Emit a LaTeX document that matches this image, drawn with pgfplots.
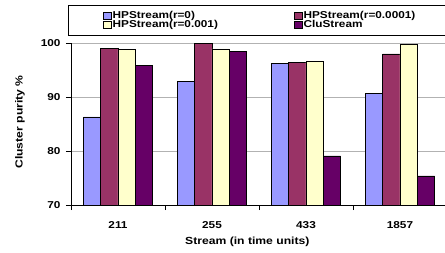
\documentclass[border=0pt]{standalone}
\usepackage{pgfplots}
\pgfplotsset{compat=1.18}
\usepackage{fontspec}
\setmainfont{Liberation Sans}[FakeStretch=1.18, BoldFeatures={FakeStretch=1.18}]
\definecolor{cA}{HTML}{9999FF}
\definecolor{cB}{HTML}{993366}
\definecolor{cC}{HTML}{FFFFCC}
\definecolor{cD}{HTML}{660066}
\pgfplotsset{sq/.style={draw=black, line width=0.5pt,
  legend image code/.code={\draw[##1,draw=black,line width=0.5pt] (0pt,-3.7pt) rectangle (7.4pt,3.7pt);}}}
\begin{document}
\begin{tikzpicture}
\path[use as bounding box] (0,0) rectangle (445pt,252pt);
\begin{axis}[
 at={(71pt,47pt)}, anchor=south west,
 scale only axis, width=376pt, height=162pt,
 ybar=0pt, bar width=17.3pt,
 xmin=-0.5, xmax=3.5, ymin=70, ymax=100,
 axis x line*=bottom, axis y line*=left,
 xtick={0,1,2,3}, xticklabels={211,255,433,1857},
 major x tick style={draw=none},
 minor xtick={-0.5,0.5,1.5,2.5,3.5},
 minor tick length=5pt, major tick length=5pt,
 tick align=outside,
 ytick={70,80,90,100},
 ymajorgrids, grid style={gray!60, line width=0.6pt},
 tick style={black, line width=0.6pt},
 axis line style={black, line width=0.6pt},
 /pgf/number format/assume math mode=true,
 ticklabel style={font=\bfseries\fontsize{10}{12}\selectfont},
 xticklabel style={yshift=-8pt},
 yticklabel style={xshift=-2pt},
 xlabel={Stream (in time units)},
 ylabel={Cluster purity \%},
 label style={font=\bfseries\fontsize{10.3}{12}\selectfont},
 xlabel style={at={(axis description cs:0.469,-0.2265)}, anchor=center},
 ylabel style={at={(axis description cs:-0.1356,0.512)}, anchor=center},
 legend columns=2,
 legend cell align=left,
 legend style={at={(axis description cs:-0.008,1.2346)}, anchor=north west,
   draw=black, line width=0.6pt, inner xsep=35pt, inner ysep=6pt,
   font=\bfseries\fontsize{10}{12}\selectfont,
   nodes={inner xsep=1.5pt, inner ysep=0pt, text height=7pt, text depth=2pt, text width=180pt},
   row sep=0pt},
]
\addplot[sq, fill=cA] coordinates {(0,86.3) (1,92.9) (2,96.2) (3,90.7)};
\addplot[sq, fill=cB] coordinates {(0,99.0) (1,100) (2,96.4) (3,98.0)};
\addplot[sq, fill=cC] coordinates {(0,98.8) (1,98.9) (2,96.7) (3,99.8)};
\addplot[sq, fill=cD] coordinates {(0,95.9) (1,98.5) (2,79.1) (3,75.4)};
\legend{HPStream(r=0),HPStream(r=0.0001),HPStream(r=0.001),CluStream}
\end{axis}
\end{tikzpicture}
\end{document}
